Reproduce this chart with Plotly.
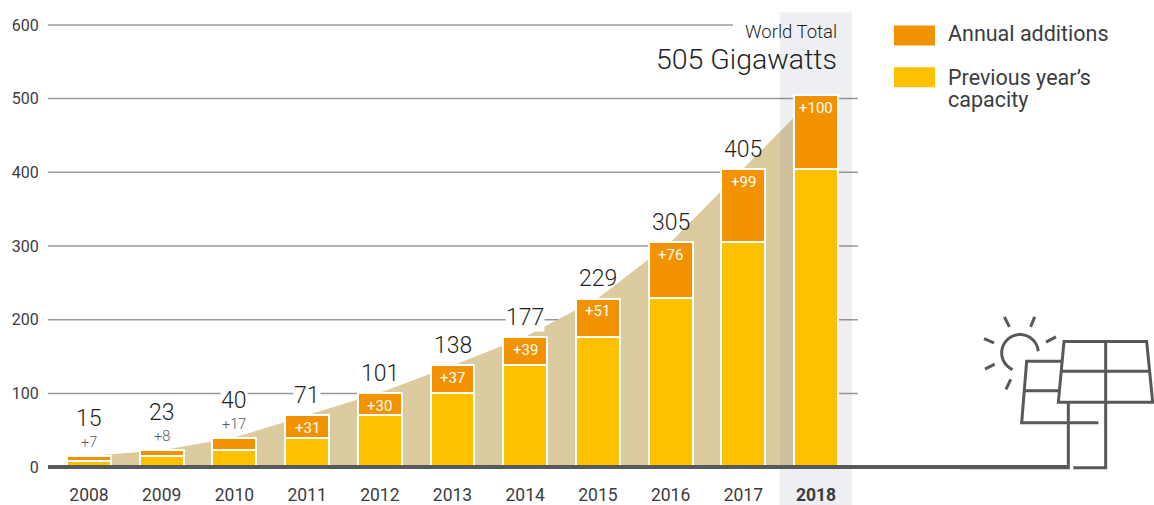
import math
import plotly.graph_objects as go

years = [2008, 2009, 2010, 2011, 2012, 2013, 2014, 2015, 2016, 2017, 2018]
previous = [8, 15, 23, 40, 71, 101, 138, 177, 229, 305, 405]
additions = [7, 8, 17, 31, 30, 37, 39, 51, 76, 99, 100]
totals = [15, 23, 40, 71, 101, 138, 177, 229, 305, 405, 505]
y_ticks = [0, 100, 200, 300, 400, 500, 600]
label_masks_grid = [2010, 2011, 2014]

W, H = 1154, 505
L, R = 48, 858
UNIT = 443 / 600
Y_MIN, Y_MAX = -8, 608
T = 24.5 - 8 * UNIT
B = 467 + 8 * UNIT
X_STEP = 72.7
X0 = 2008 + (L - 89) / X_STEP
X1 = 2008 + (R - 89) / X_STEP
ORANGE, YELLOW, TAN, DARK = "#F39200", "#FFC000", "#DDCBA0", "#58595B"
TEXT = "#3C3C3E"
HEAD = "#1F1F23"
FONT = "Roboto"


def px(x):
    return (x - L) / (R - L)


def py(y):
    return (B - y) / (B - T)


fig = go.Figure()
fig.add_trace(go.Scatter(x=years, y=totals, mode="lines", line=dict(width=0), fill="tozeroy",
                         fillcolor=TAN, hoverinfo="skip", showlegend=False))
fig.add_trace(go.Bar(x=[2018], y=[Y_MAX - Y_MIN], base=[Y_MIN], width=[1.0], yaxis="y2",
                     marker=dict(color="rgba(75,95,125,0.1)", line=dict(width=0)),
                     hoverinfo="skip", showlegend=False))
bar_w = 0.605
fig.add_trace(go.Bar(x=years, y=previous, yaxis="y3", width=bar_w, name="Previous year's capacity",
                     marker=dict(color=YELLOW, line=dict(color="white", width=2)), showlegend=False))
fig.add_trace(go.Bar(x=years, y=additions, yaxis="y3", width=bar_w, name="Annual additions",
                     marker=dict(color=ORANGE, line=dict(color="white", width=2)), showlegend=False))

shapes = []
for v in y_ticks[1:]:
    end = (733 - L) / (R - L) if v == 600 else 1
    shapes.append(dict(type="line", layer="below", xref="paper", x0=0, x1=end, yref="y", y0=v, y1=v,
                       line=dict(color="#999999", width=1.5)))
band_x0, band_x1 = px(779.5), px(852)
for a, b in [(12, T), (B, 505)]:
    shapes.append(dict(type="rect", layer="below", xref="paper", yref="paper", x0=band_x0, x1=band_x1,
                       y0=py(a), y1=py(b), line=dict(width=0), fillcolor="#EDEFF2"))
shapes.append(dict(type="line", xref="paper", yref="paper", x0=px(48), x1=px(1068), y0=py(467), y1=py(467),
                   line=dict(color=DARK, width=4)))
for top, col in [(25, ORANGE), (67, YELLOW)]:
    shapes.append(dict(type="rect", xref="paper", yref="paper", x0=px(894), x1=px(935), y0=py(top), y1=py(top + 20),
                       line=dict(width=0), fillcolor=col))


def z(x, y):
    return f"{px(960 + x / 3):.5f},{py(300 + y / 3):.5f}"


def icon(points, close=False):
    d = "M" + " L".join(z(*p) for p in points) + (" Z" if close else "")
    shapes.append(dict(type="path", xref="paper", yref="paper", path=d,
                       line=dict(color=DARK, width=3), fillcolor="rgba(0,0,0,0)"))


for ray in [[(133, 50), (148, 80)], [(224, 50), (212, 80)], [(72, 115), (102, 128)], [(288, 110), (258, 126)],
            [(75, 207), (104, 192)], [(152, 238), (138, 268)]]:
    icon(ray)
arc = []
for k in range(25):
    a = math.radians(-5 - k * 241 / 24)
    arc.append((180 + 55 * math.cos(a), 158 + 55 * math.sin(a)))
icon(arc)
icon([(305, 183), (200, 183), (185, 368), (415, 368)])
icon([(195, 272), (298, 272)])
icon([(312, 124), (560, 124), (578, 306), (295, 306)], close=True)
icon([(437, 124), (437, 503), (340, 503)])
icon([(305, 213), (568, 213)])
icon([(325, 306), (325, 503), (0, 503)])

ann = []


def note(x, y, text, size, color=HEAD, xanchor="center", xref="x", yref="y", yshift=0, bg=None,
         yanchor="bottom", align="center", weight=300):
    ann.append(dict(x=x, y=y, text=text, xref=xref, yref=yref, xanchor=xanchor, yanchor=yanchor, align=align,
                    yshift=yshift, showarrow=False, font=dict(family=FONT, size=size, color=color, weight=weight),
                    bgcolor=bg, borderpad=0))


for yr, tot, add in zip(years, totals, additions):
    small = yr <= 2010
    if yr != 2018:
        note(yr, tot, str(tot), 23, yshift=23 if small else 5, bg="white" if yr in label_masks_grid else None)
    if small:
        note(yr, tot, f"+{add}", 14.5, color="#58595B", yshift=4)
    else:
        note(yr, tot, f"+{add}", 15, color="white", yanchor="middle", yshift=-13, weight=400)

note(px(838), py(32), "World Total", 18.5, xanchor="right", xref="paper", yref="paper", yanchor="middle")
note(px(838), py(59), "505 Gigawatts", 28.5, xanchor="right", xref="paper", yref="paper", yanchor="middle")
note(px(947), py(33), "Annual additions", 21.5, color=TEXT, xanchor="left", xref="paper", yref="paper", yanchor="middle", weight=400)
note(px(947), py(77), "Previous year’s", 21.5, color=TEXT, xanchor="left", xref="paper", yref="paper", yanchor="middle", weight=400)
note(px(947), py(99), "capacity", 21.5, color=TEXT, xanchor="left", xref="paper", yref="paper", yanchor="middle", weight=400)

axis_off = dict(overlaying="y", range=[Y_MIN, Y_MAX], visible=False)
fig.update_layout(
    width=W, height=H, paper_bgcolor="white", plot_bgcolor="rgba(0,0,0,0)",
    margin=dict(l=L, r=W - R, t=T, b=H - B, autoexpand=False),
    barmode="stack", bargap=0,
    xaxis=dict(range=[X0, X1], tickmode="array", tickvals=years,
               ticktext=[f"<b>{y}</b>" if y == 2018 else str(y) for y in years],
               showgrid=False, zeroline=False, showline=False,
               ticks="outside", ticklen=6, tickcolor="rgba(0,0,0,0)",
               tickfont=dict(family=FONT, size=17.5, color=TEXT)),
    yaxis=dict(range=[Y_MIN, Y_MAX], tickmode="array", tickvals=y_ticks, showgrid=False, zeroline=False,
               showline=False, ticks="outside", ticklen=5, tickcolor="rgba(0,0,0,0)",
               tickfont=dict(family=FONT, size=16, color=TEXT)),
    yaxis2=axis_off, yaxis3=axis_off,
    shapes=shapes, annotations=ann,
)
fig.write_html("out.html", config=dict(displayModeBar=False),
               post_script="document.body.style.margin='0';document.documentElement.style.overflow='hidden';")
